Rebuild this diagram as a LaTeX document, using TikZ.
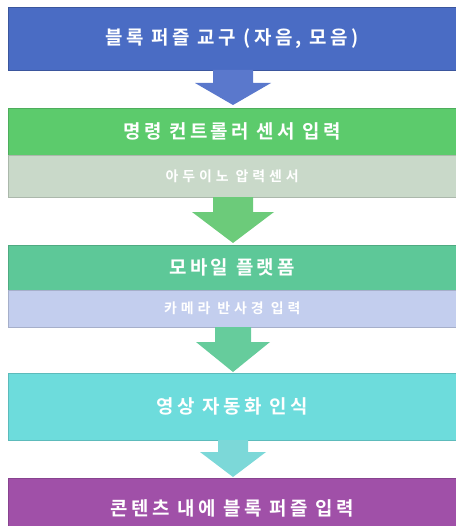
\documentclass[tikz,border=0pt]{standalone}
\usepackage{fontspec}
\newfontfamily\kr[LetterSpace=18]{Noto Sans CJK KR Bold}
\newfontfamily\krs[LetterSpace=28]{Noto Sans CJK KR Bold}
\usetikzlibrary{calc}
\definecolor{cBlue}{HTML}{4A6CC4}
\definecolor{cGreen}{HTML}{5CCB6C}
\definecolor{cGray}{HTML}{C9D9C9}
\definecolor{cTeal}{HTML}{5DC898}
\definecolor{cLav}{HTML}{C3CEEE}
\definecolor{cCyan}{HTML}{6DDCDC}
\definecolor{cPurp}{HTML}{A050A8}
\definecolor{aBlue}{HTML}{5A78CC}
\definecolor{aGreen}{HTML}{6CCB7A}
\definecolor{aTeal}{HTML}{66CC9C}
\definecolor{aCyan}{HTML}{7CD8D8}
\tikzset{
  box/.style={anchor=north west, minimum width=448bp, inner sep=0pt, text=white, font=\kr\fontsize{19}{22}\selectfont},
  subbox/.style={box, font=\krs\fontsize{14}{16}\selectfont}
}
\begin{document}
\begin{tikzpicture}[x=1bp,y=-1bp]
\useasboundingbox (0,0) rectangle (456,526);
\clip (0,0) rectangle (456,526);
\node[box, fill=cBlue, draw=cBlue!80!black, minimum height=63bp] (b1) at (8,7) {\raisebox{-3bp}{블록 퍼즐 교구 (자음, 모음)}};
\node[box, fill=cGreen, draw=cGreen!85!black, minimum height=47bp] (b2) at (8,108) {명령 컨트롤러 센서 입력};
\node[subbox, fill=cGray, draw=cGray!85!black, minimum height=42bp] (b2s) at (8,155) {아두이노 압력센서};
\node[box, fill=cTeal, draw=cTeal!85!black, minimum height=45bp] (b3) at (8,245) {모바일 플랫폼};
\node[subbox, fill=cLav, draw=cLav!85!black, minimum height=37bp] (b3s) at (8,290) {카메라 반사경 입력};
\node[box, fill=cCyan, draw=cCyan!85!black, minimum height=67bp] (b4) at (8,373) {영상 자동화 인식};
\node[box, fill=cPurp, draw=cPurp!85!black, minimum height=60bp] (b5) at (8,478) {콘텐츠 내에 블록 퍼즐 입력};
% arrows
\fill[aBlue] (213,70) -- (253,70) -- (253,83) -- (271,83) -- (233,105) -- (195,83) -- (213,83) -- cycle;
\fill[aGreen] (213,197) -- (253,197) -- (253,212) -- (274,212) -- (233,243) -- (192,212) -- (213,212) -- cycle;
\fill[aTeal] (215,327) -- (251,327) -- (251,342) -- (270,342) -- (233,372) -- (196,342) -- (215,342) -- cycle;
\fill[aCyan] (218,440) -- (248,440) -- (248,452) -- (266,452) -- (233,477) -- (200,452) -- (218,452) -- cycle;
\end{tikzpicture}
\end{document}
